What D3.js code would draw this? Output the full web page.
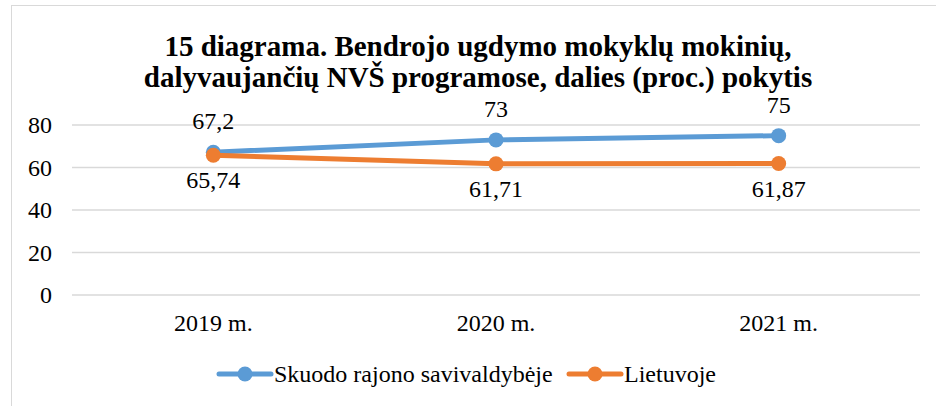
<!DOCTYPE html>
<html>
<head>
<meta charset="utf-8">
<script src="https://cdn.jsdelivr.net/npm/d3@7"></script>
<style>
  body { margin: 0; background: #fff; }
  svg { display: block; font-family: "Liberation Serif", "Times New Roman", serif; }
</style>
</head>
<body>
<div id="chart"></div>
<script>
// data
var years = ['2019 m.', '2020 m.', '2021 m.'];
var skuodas = [67.2, 73, 75];
var lietuva = [65.74, 61.71, 61.87];
var skuodasLabels = ['67,2', '73', '75'];
var lietuvaLabels = ['65,74', '61,71', '61,87'];
var yTicks = [0, 20, 40, 60, 80];
var titleLines = ['15 diagrama. Bendrojo ugdymo mokyklų mokinių,',
	'dalyvaujančių NVŠ programose, dalies (proc.) pokytis'];

var WIDTH = 936,
	HEIGHT = 406,
	FONT = '"Liberation Serif", "Times New Roman", serif';

var series = [
	{ name: 'Skuodo rajono savivaldybėje', values: skuodas, labels: skuodasLabels, color: '#5b9bd5', above: true },
	{ name: 'Lietuvoje', values: lietuva, labels: lietuvaLabels, color: '#ed7d31', above: false }
];

var svg = d3.select('#chart').append('svg')
	.attr('width', WIDTH)
	.attr('height', HEIGHT);

// chart border
svg.append('rect')
	.attr('x', 11.5)
	.attr('y', 5.5)
	.attr('width', 940)
	.attr('height', 420)
	.attr('fill', 'none')
	.attr('stroke', '#d9d9d9')
	.attr('stroke-width', 1);

// title
svg.append('text')
	.attr('x', 478)
	.attr('y', 56)
	.attr('text-anchor', 'middle')
	.style('font-size', '29px')
	.style('font-weight', 'bold')
	.selectAll('tspan')
	.data(titleLines)
	.enter().append('tspan')
		.attr('x', 478)
		.attr('dy', function(d, i) { return i === 0 ? 0 : 31; })
		.text(function(d) { return d; });

// scales
var x = d3.scaleBand().domain(years).range([72, 920]);
var y = d3.scaleLinear().domain([0, 80]).range([295, 125]);

// gridlines
svg.append('g')
	.selectAll('line')
	.data(yTicks)
	.enter().append('line')
		.attr('x1', 72)
		.attr('x2', 920)
		.attr('y1', function(d) { return y(d); })
		.attr('y2', function(d) { return y(d); })
		.attr('stroke', '#d9d9d9')
		.attr('stroke-width', 1.5);

// y axis labels
var yAxis = svg.append('g')
	.attr('transform', 'translate(52,0)')
	.call(d3.axisLeft(y).tickValues(yTicks).tickSize(0).tickPadding(0));
yAxis.select('.domain').remove();
yAxis.selectAll('text')
	.style('font-size', '24px')
	.style('font-family', FONT)
	.attr('fill', '#000');

// x axis labels
var xAxis = svg.append('g')
	.attr('transform', 'translate(0,314)')
	.call(d3.axisBottom(x).tickSize(0).tickPadding(0));
xAxis.select('.domain').remove();
xAxis.selectAll('text')
	.style('font-size', '24px')
	.style('font-family', FONT)
	.attr('fill', '#000');

var cx = function(d, i) { return x(years[i]) + x.bandwidth() / 2; };

var line = d3.line()
	.x(function(d, i) { return cx(d, i); })
	.y(function(d) { return y(d); });

series.forEach(function(s) {
	var g = svg.append('g');
	g.append('path')
		.datum(s.values)
		.attr('d', line)
		.attr('fill', 'none')
		.attr('stroke', s.color)
		.attr('stroke-width', 5)
		.attr('stroke-linejoin', 'round')
		.attr('stroke-linecap', 'round');
	g.selectAll('circle')
		.data(s.values)
		.enter().append('circle')
			.attr('cx', cx)
			.attr('cy', function(d) { return y(d); })
			.attr('r', 7.5)
			.attr('fill', s.color);
	g.selectAll('text')
		.data(s.values)
		.enter().append('text')
			.attr('x', cx)
			.attr('y', function(d) { return s.above ? y(d) - 23 : y(d) + 33; })
			.attr('text-anchor', 'middle')
			.style('font-size', '24px')
			.text(function(d, i) { return s.labels[i]; });
});

// legend
var legendX = [219, 569];
var legend = svg.selectAll('.legend')
	.data(series)
	.enter().append('g')
		.attr('class', 'legend')
		.attr('transform', function(d, i) { return 'translate(' + legendX[i] + ',374)'; });
legend.append('line')
	.attr('x1', 0)
	.attr('x2', 52)
	.attr('stroke', function(d) { return d.color; })
	.attr('stroke-width', 5)
	.attr('stroke-linecap', 'round');
legend.append('circle')
	.attr('cx', 26)
	.attr('r', 7.5)
	.attr('fill', function(d) { return d.color; });
legend.append('text')
	.attr('x', 55)
	.attr('y', 8)
	.style('font-size', '24px')
	.text(function(d) { return d.name; });
</script>
</body>
</html>
